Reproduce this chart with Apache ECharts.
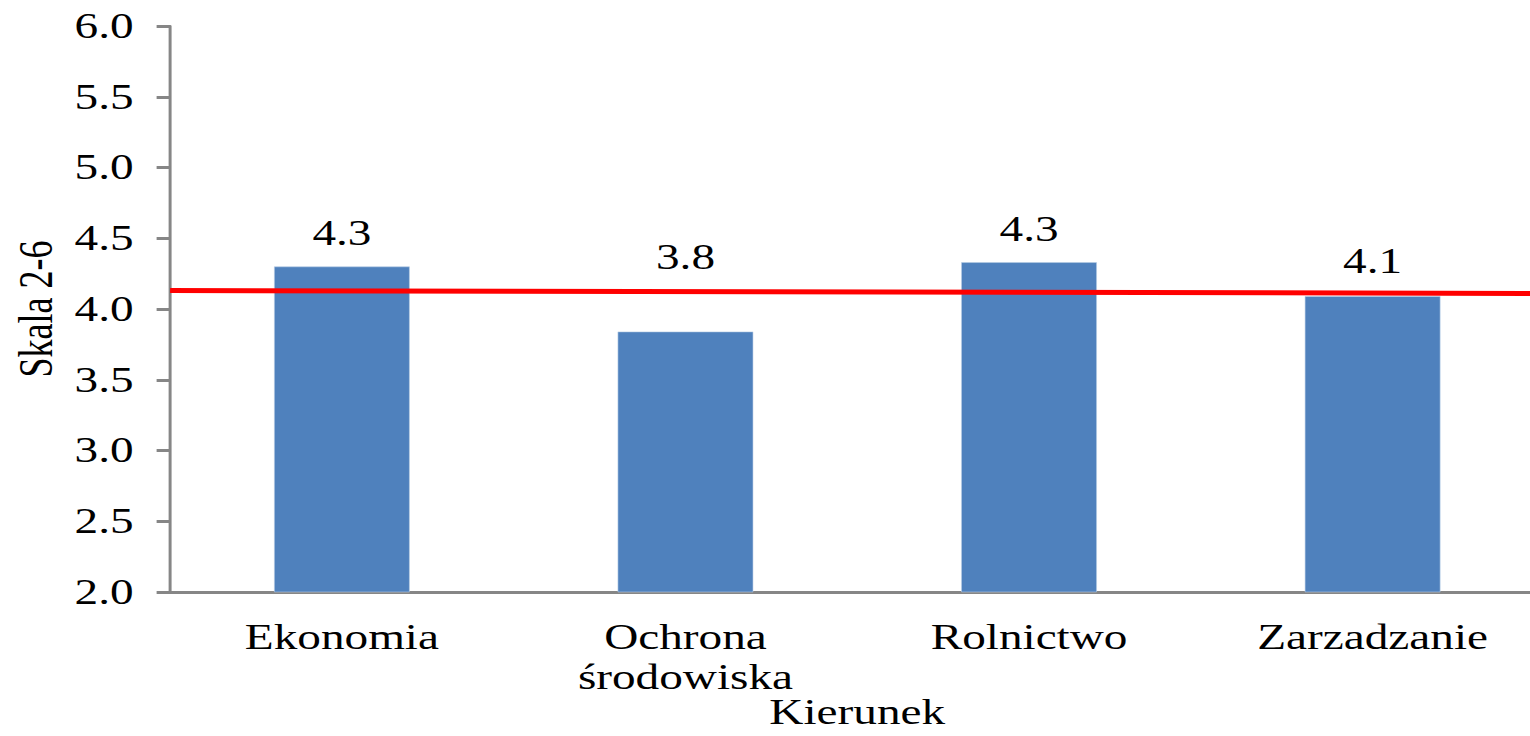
<!DOCTYPE html>
<html>
<head>
<meta charset="utf-8">
<script src="https://cdn.jsdelivr.net/npm/echarts@6/dist/echarts.min.js"></script>
<style>
  html, body { margin: 0; padding: 0; background: #fff; overflow: hidden; }
  /* the original picture is stretched sideways, so the chart is drawn narrow and widened */
  #chart { width: 1160px; height: 736px; transform: scaleX(1.35); transform-origin: 0 0; }
</style>
</head>
<body>
<div id="chart"></div>
<script>
// dane
const categories = ["Ekonomia", "Ochrona\nśrodowiska", "Rolnictwo", "Zarzadzanie"];
const values = [4.30, 3.84, 4.33, 4.09];
const valueLabels = ["4.3", "3.8", "4.3", "4.1"];
const labelGaps = [16, 57, 16, 18];
const yTicks = [2.0, 2.5, 3.0, 3.5, 4.0, 4.5, 5.0, 5.5, 6.0];
const avgLine = [4.13, 4.11]; // czerwona linia: lewy i prawy koniec

const font = "Times New Roman, Liberation Serif, Tinos, serif";
const axisGrey = "#868686";

let chart = echarts.init(document.getElementById("chart"), null, {renderer: "svg"});
chart.setOption({
  animation: false,
  grid: {left: 126, right: 16, top: 26, bottom: 144, containLabel: false, outerBoundsMode: "none"},
  xAxis: [{
    type: "category",
    data: categories,
    name: "Kierunek",
    nameLocation: "middle",
    nameGap: 102,
    nameMoveOverlap: false,
    nameTextStyle: {fontFamily: font, fontSize: 35, color: "#000", lineHeight: 36},
    axisLine: {lineStyle: {color: axisGrey, width: 3}},
    axisTick: {length: 10, lineStyle: {color: axisGrey, width: 2}},
    axisLabel: {fontFamily: font, fontSize: 35, color: "#000", margin: 25, lineHeight: 40, interval: 0}
  }, {
    type: "value",
    min: 0,
    max: 1,
    show: false
  }],
  yAxis: {
    type: "value",
    min: yTicks[0],
    max: yTicks[yTicks.length - 1],
    interval: 0.5,
    name: "Skala 2-6",
    nameLocation: "middle",
    nameGap: 80,
    nameRotate: 90,
    nameTextStyle: {fontFamily: font, fontSize: 36, color: "#000"},
    splitLine: {show: false},
    axisLine: {show: true, lineStyle: {color: axisGrey, width: 2.2}},
    axisTick: {show: true, length: 10, lineStyle: {color: axisGrey, width: 3}},
    axisLabel: {fontFamily: font, fontSize: 35, color: "#000", margin: 27, padding: [6, 0, 0, 0],
      formatter: v => v.toFixed(1)}
  },
  series: [{
    type: "bar",
    barWidth: "39.5%",
    itemStyle: {color: "#4F81BD", borderColor: "#B9CDE5", borderWidth: 0.5},
    data: values.map((v, i) => ({
      value: v,
      label: {
        show: true,
        position: "top",
        distance: labelGaps[i],
        formatter: valueLabels[i],
        fontFamily: font,
        fontSize: 35,
        color: "#000"
      }
    }))
  }, {
    type: "line",
    xAxisIndex: 1,
    symbol: "none",
    lineStyle: {color: "#FF0000", width: 5},
    data: [[0, avgLine[0]], [1, avgLine[1]]],
    z: 5
  }]
});
</script>
</body>
</html>
